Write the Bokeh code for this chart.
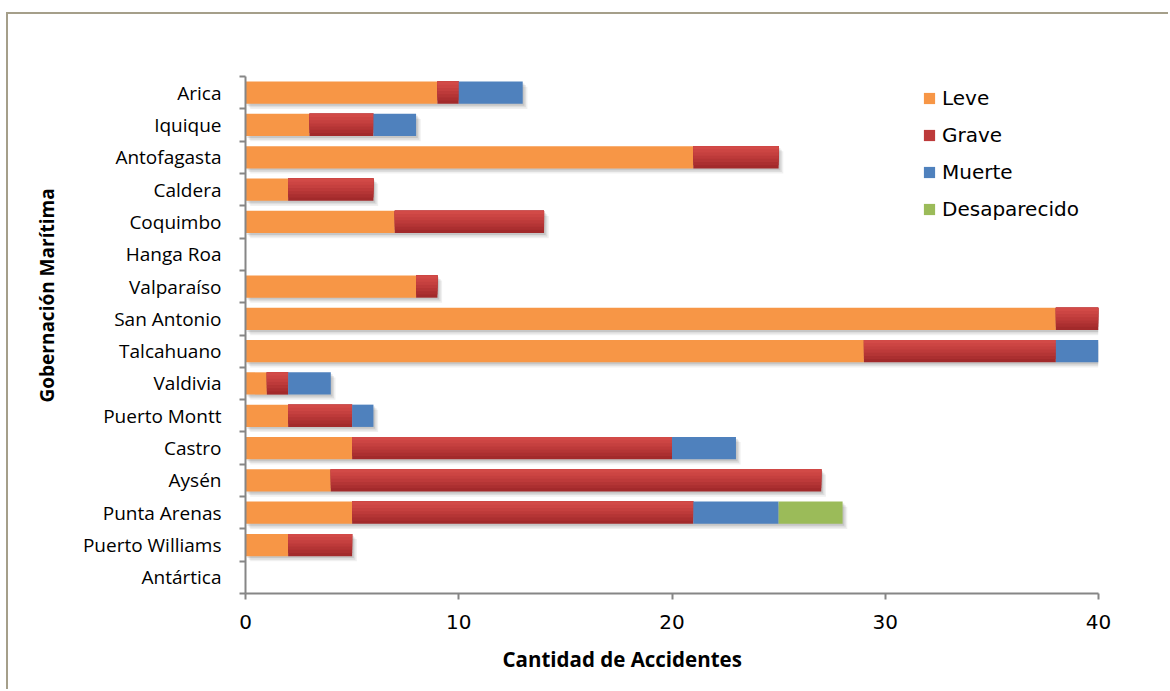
from bokeh.plotting import figure
from bokeh.models import Range1d, FixedTicker, Legend, LegendItem, Title
from bokeh.embed import file_html
from bokeh.resources import INLINE

categories = ["Arica", "Iquique", "Antofagasta", "Caldera", "Coquimbo", "Hanga Roa",
              "Valparaíso", "San Antonio", "Talcahuano", "Valdivia", "Puerto Montt",
              "Castro", "Aysén", "Punta Arenas", "Puerto Williams", "Antártica"]
leve = [9, 3, 21, 2, 7, 0, 8, 38, 29, 1, 2, 5, 4, 5, 2, 0]
grave = [1, 3, 4, 4, 7, 0, 1, 2, 9, 1, 3, 15, 23, 16, 3, 0]
muerte = [3, 2, 0, 0, 0, 0, 0, 0, 2, 2, 1, 3, 0, 4, 0, 0]
desaparecido = [0, 0, 0, 0, 0, 0, 0, 0, 0, 0, 0, 0, 0, 3, 0, 0]
x_ticks = [0, 10, 20, 30, 40]
x_title = "Cantidad de Accidentes"
y_title = "Gobernación Marítima"

FONT = "Open Sans"
FONT2 = "DejaVu Sans"
n = len(categories)
ypos = [n - 1 - i for i in range(n)]
H = 0.69

p = figure(width=1162, height=677, output_backend="svg", toolbar_location=None,
           x_range=Range1d(0, 40), y_range=Range1d(-0.5, n - 0.5),
           min_border_left=237, min_border_right=72, min_border_top=62, min_border_bottom=98)
p.styles = {"margin-left": "6px", "margin-top": "12px",
            "border-left": "2px solid #a59f8a", "border-top": "2px solid #a59f8a"}
p.grid.visible = False
p.outline_line_color = None
p.background_fill_color = "white"
p.border_fill_color = "white"

# stacked bounds
s1 = [a for a in leve]
s2 = [a + b for a, b in zip(s1, grave)]
s3 = [a + b for a, b in zip(s2, muerte)]
s4 = [a + b for a, b in zip(s3, desaparecido)]

# soft drop shadows
idx = [i for i in range(n) if s4[i] > 0]
for dx, dy, al in [(0.22, -0.16, 0.06), (0.15, -0.11, 0.08), (0.08, -0.06, 0.10)]:
    p.hbar(y=[ypos[i] + dy for i in idx], left=[dx for i in idx], right=[s4[i] + dx for i in idx],
           height=H, fill_color="black", fill_alpha=al, line_color=None)

r_leve = p.hbar(y=ypos, left=0, right=s1, height=H, fill_color="#F79646", line_color=None)

# grave with vertical gradient: nested bars anchored at the top edge
grad = ["#a22a2b", "#ab2f30", "#b43535", "#bd3a3a", "#c5403f", "#cc4543", "#d24a47"]
k = len(grad)
grave_rs = []
for j, c in enumerate(grad):
    hh = H * (k - j) / k
    off = H / 2 - hh / 2
    r = p.hbar(y=[y + off for y in ypos], left=s1, right=s2, height=hh,
               fill_color=c, line_color=None)
    grave_rs.append(r)
r_muerte = p.hbar(y=ypos, left=s2, right=s3, height=H, fill_color="#4F81BD", line_color=None)
r_des = p.hbar(y=ypos, left=s3, right=s4, height=H, fill_color="#9BBB59", line_color=None)

# axes
xa = p.xaxis[0]
xa.ticker = FixedTicker(ticks=x_ticks, minor_ticks=[])
xa.axis_line_color = "#868686"
xa.axis_line_width = 2
xa.major_tick_line_color = "#868686"
xa.major_tick_line_width = 2
xa.major_tick_out = 6
xa.major_tick_in = 0
xa.major_label_standoff = 15
xa.major_label_text_font = FONT2
xa.major_label_text_font_size = "20px"
xa.major_label_text_color = "black"

ya = p.yaxis[0]
ya.ticker = FixedTicker(ticks=ypos, minor_ticks=[y + 0.5 for y in range(-1, n)])
ya.major_label_overrides = {y: c for y, c in zip(ypos, categories)}
ya.axis_line_color = "#868686"
ya.axis_line_width = 2
ya.major_tick_line_color = None
ya.major_tick_out = 0
ya.major_tick_in = 0
ya.minor_tick_line_color = "#868686"
ya.minor_tick_line_width = 2
ya.minor_tick_out = 6
ya.minor_tick_in = 0
ya.major_label_standoff = 18
ya.major_label_text_font = FONT
ya.major_label_text_font_size = "19px"
ya.major_label_text_color = "black"

# axis titles (placed like the original: not centred on the plot frame)
p.add_layout(Title(text=x_title, align="left", offset=257, vertical_align="top", standoff=26,
                   text_font=FONT, text_font_style="bold", text_font_size="20.5px",
                   text_color="black"), "below")
p.add_layout(Title(text=y_title, align="left", offset=191, vertical_align="bottom", standoff=40,
                   text_font=FONT, text_font_style="bold", text_font_size="19px",
                   text_color="black"), "left")

legend = Legend(items=[
    LegendItem(label="Leve", renderers=[r_leve]),
    LegendItem(label="Grave", renderers=[grave_rs[3]]),
    LegendItem(label="Muerte", renderers=[r_muerte]),
    LegendItem(label="Desaparecido", renderers=[r_des]),
], location=(677, 372), padding=0, margin=0, spacing=13,
   glyph_width=14, glyph_height=14, label_standoff=6,
   label_text_font=FONT2, label_text_font_size="20px", label_text_color="black",
   border_line_color=None, background_fill_alpha=0)
p.add_layout(legend, "center")

open("out.html", "w").write(file_html(p, INLINE))
